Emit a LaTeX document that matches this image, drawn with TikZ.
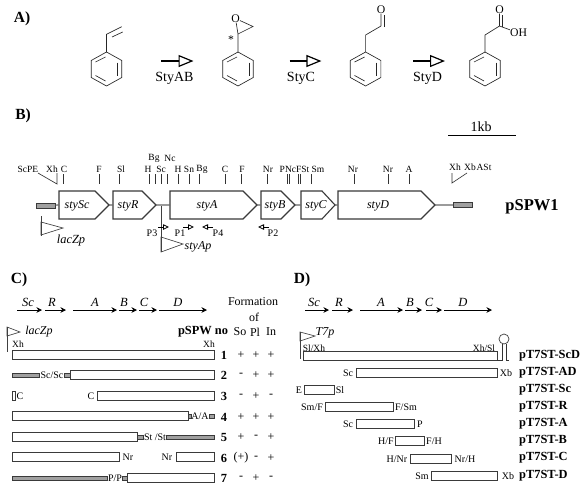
\documentclass[tikz,border=0pt]{standalone}
\usepackage{fontspec}
\setmainfont{Liberation Serif}
\usetikzlibrary{arrows.meta,positioning}
\definecolor{wire}{HTML}{3A3A3A}
\definecolor{rodfill}{HTML}{A0A0A0}
\tikzset{
  head/.style={font=\fontsize{15.5}{15}\selectfont\bfseries,inner sep=0pt},
  enz/.style={font=\fontsize{14}{14}\selectfont,inner sep=0pt},
  atom/.style={font=\fontsize{11.7}{12}\selectfont,inner sep=0pt},
  bond/.style={black!85,line width=0.65pt},
  react/.style={-{Triangle[open,length=15pt,width=12pt,line width=1.2pt]},black,line width=1.2pt},
  site/.style={font=\fontsize{9.5}{10}\selectfont,inner sep=0pt},
  tickm/.style={draw=black!80,line width=0.65pt},
  gene/.style={draw=wire,fill=white,line width=1.1pt,line join=miter},
  gname/.style={font=\fontsize{12}{12}\selectfont\itshape,inner sep=0pt},
  backb/.style={draw=black!60,line width=1.2pt},
  rod/.style={draw=wire,fill=rodfill,line width=0.7pt,minimum height=4pt,inner sep=0pt},
  barbox/.style={draw=wire,fill=white,line width=0.85pt,minimum height=9pt,inner sep=0pt},
  orf/.style={-{Stealth[length=5.5pt,width=5.5pt]},black,line width=0.8pt},
  orfname/.style={font=\fontsize{12.5}{13}\selectfont\itshape,inner sep=0pt},
  prom/.style={draw=black!75,line width=0.65pt},
  primer/.style={-{Triangle[open,length=6pt,width=5.5pt,line width=0.8pt]},black,line width=0.8pt},
  cut/.style={font=\fontsize{10}{10}\selectfont,inner sep=0pt},
  plain/.style={font=\fontsize{12}{12}\selectfont,inner sep=0pt},
  bold/.style={font=\fontsize{12.4}{12}\selectfont\bfseries,inner sep=0pt},
}
% ring at x, point on top
\newcommand{\phring}[2]{
  \draw[bond] (#1,52) -- ++(15.3,8.5) -- ++(0,17) -- ++(-15.3,8.5) -- ++(-15.3,-8.5) -- ++(0,-17) -- cycle;
  \draw[bond] (#1+11,62.5) -- (#1+11,75.5);
  \draw[bond] (#1-11,75.5) -- (#1-1,81);
  \draw[bond] (#1-11,62) -- (#1-1,57);
  \coordinate (#2) at (#1,52);
}
% gene: name, x start, shoulder, tip, label centre
\newcommand{\genearrow}[5]{
  \draw[gene] (#2,191) -- (#3,191) -- (#4,205) -- (#3,219) -- (#2,219) -- cycle;
  \coordinate (#1w) at (#2,205); \coordinate (#1e) at (#4,205);
  \node[gname] (#1) at (#5,205.5) {sty#1};
}
% bar: style, name, x0, x1, y
\newcommand{\slab}[5]{
  \pgfmathsetmacro{\slabw}{#4-(#3)}
  \node[#1,anchor=west,minimum width=\slabw pt] (#2) at (#3,#5) {};
}
\begin{document}
\begin{tikzpicture}[x=1pt,y=-1pt]
  \useasboundingbox (0,0) rectangle (585,488);
  \fill[white] (0,0) rectangle (585,488);

  % A
  \node[head] (pa) at (22,18.5) {A)};
  \phring{106.5}{st}
  \phring{238}{ep}
  \phring{365.6}{pa1}
  \phring{485}{pa2}
  \coordinate (st1) at (106.5,34.3); \coordinate (st2) at (121.7,26.7);
  \draw[bond] (st) -- (st1) -- (st2);
  \draw[bond] (112,37) -- (122.7,32);
  \node[atom] (oxy) at (235.5,18.5) {O};
  \coordinate (ep1) at (238,34); \coordinate (ep2) at (253,26.5);
  \draw[bond] (ep) -- (ep1) -- (ep2) -- (oxy);
  \draw[bond] (ep1) -- (oxy);
  \node[atom] (star) at (231,40) {*};
  \coordinate (ald1) at (365.6,35); \coordinate (ald2) at (381,26);
  \node[atom] (oald) at (381,9.5) {O};
  \draw[bond] (pa1) -- (ald1) -- (ald2) -- (oald);
  \draw[bond] (384,27) -- (384,15);
  \coordinate (ac1) at (485,35); \coordinate (ac2) at (499.5,26);
  \node[atom] (oac) at (499.5,9.5) {O};
  \node[atom] (oh) at (518.6,33) {OH};
  \draw[bond] (pa2) -- (ac1) -- (ac2) -- (oac);
  \draw[bond] (502.5,27) -- (502.5,15);
  \draw[bond] (ac2) -- (oh);
  \foreach \xs/\xe/\xl/\txt in {161/193.5/174.4/StyAB,289.5/321.4/301/StyC,413/445/427.5/StyD}{
    \coordinate (r\txt a) at (\xs,61); \coordinate (r\txt b) at (\xe,61);
    \draw[react] (r\txt a) -- (r\txt b);
    \node[enz] (l\txt) at (\xl,78) {\txt};
  }

  % B
  \node[head] (pb) at (23,116) {B)};
  \node[enz] (scale) at (481,127) {1kb};
  \coordinate (sa) at (448,135); \coordinate (sb) at (516,135);
  \draw[black,line width=0.8pt] (sa) -- (sb);
  \genearrow{Sc}{59}{95}{109}{77}
  \genearrow{R}{113}{142}{156}{128}
  \genearrow{A}{170}{243}{257}{207}
  \genearrow{B}{261}{281}{295}{275}
  \genearrow{C}{301}{322}{335}{316}
  \genearrow{D}{338}{421}{435}{378}
  \slab{rod,minimum height=5pt}{lrod}{36}{55}{205.5}
  \slab{rod,minimum height=5pt}{rrod}{453}{472}{205}
  \draw[backb] (lrod) -- (Scw) (Sce) -- (Rw) (Re) -- (Aw) (Ae) -- (Bw) (Be) -- (Cw) (Ce) -- (Dw) (De) -- (rrod);
  \foreach \xx in {63,99,119,149,155,161,167,178,189,199,225,241,267,287,289,298,300,311,354,388,409}
    \draw[tickm] (\xx,174) -- (\xx,184);
  \draw[tickm] (57,173) -- (57,184) -- (38,173);
  \draw[tickm] (452,173) -- (452,183) -- (467,173);
  \foreach \xx/\yy/\txt [count=\n] in {28/169/ScPE,52/169/Xh,64/169/C,99/169/F,121/169/Sl,148/169/H,154/158.5/Bg,170/158.5/Nc,161/169/Sc,178/169/H,189/169/Sn,202/169/Bg,225/169/C,242/169/F,268/169/Nr,294.5/169/PNcFSt,318/169/Sm,353/169/Nr,388/169/Nr,409/169/A,455/167/Xh,470/167/Xb,484/167/ASt}
    \node[site] (s\n) at (\xx,\yy) {\txt};
  \node[font=\fontsize{16.5}{17}\selectfont\bfseries,inner sep=0pt] (plasmid) at (532,207) {pSPW1};
  \draw[prom] (41,216) -- (41,236);
  \draw[prom] (41,222) -- (63,228) -- (41,235) -- cycle;
  \node[gname,font=\fontsize{12.4}{13}\selectfont\itshape] (lacb) at (71,241) {lacZp};
  \draw[prom] (161,206) -- (161,252);
  \draw[prom] (161,237) -- (183,244) -- (161,252) -- cycle;
  \node[gname] (styap) at (198,247) {styAp};
  \foreach \xs/\xe/\txt/\xl in {158/169/P3/152,183/194/P1/180,213/202/P4/218,269/258/P2/273}{
    \coordinate (\txt a) at (\xs,227); \coordinate (\txt b) at (\xe,227);
    \draw[primer] (\txt a) -- (\txt b);
    \node[cut] (l\txt) at (\xl,233) {\txt};
  }

  % C
  \node[head] (pc) at (19,280) {C)};
  \foreach \xs/\xe/\xl/\txt in {17/42/28/Sc,45/66/52/R,73/117/95/A,119/137/124/B,139/157/144/C,159/207/178/D}{
    \coordinate (c\txt a) at (\xs,310); \coordinate (c\txt b) at (\xe,310);
    \draw[orf] (c\txt a) -- (c\txt b);
    \node[orfname] (cl\txt) at (\xl,302) {\txt};
  }
  \node[plain] (form) at (253,302) {Formation};
  \node[plain] (formof) at (254,317) {of};
  \node[plain] (so) at (240,332) {So};
  \node[plain] (pl) at (255,332) {Pl};
  \node[plain] (inc) at (271,332) {In};
  \node[bold] (pno) at (203,332) {pSPW no};
  \draw[prom] (7,327) -- (7,352);
  \draw[prom] (7,327) -- (20,332) -- (7,336) -- cycle;
  \node[gname] (lacc) at (39,332) {lacZp};
  \node[site] (cxa) at (18,344.5) {Xh};
  \node[site] (cxb) at (209,344.5) {Xh};
  \slab{barbox}{c1}{12}{214}{354.5}
  \slab{rod}{c2r}{12}{39}{375}
  \node[cut] (c2l) at (52,375) {Sc/Sc};
  \slab{rod}{c2s}{64}{70}{375}
  \slab{barbox}{c2}{70}{214}{375}
  \slab{barbox}{c3a}{12}{15}{396}
  \node[cut] (c3l) at (20,396) {C};
  \node[cut] (c3m) at (91,396) {C};
  \slab{barbox}{c3}{97}{214}{396}
  \slab{barbox}{c4}{12}{188}{416}
  \slab{rod}{c4s}{188}{191}{416}
  \node[cut] (c4l) at (200,416) {A/A};
  \slab{rod}{c4r}{209}{214}{416}
  \slab{barbox}{c5}{12}{137}{437}
  \slab{rod}{c5s}{137}{143}{437}
  \node[cut] (c5l) at (155,437) {St /St};
  \slab{rod}{c5r}{166}{214}{437}
  \slab{barbox}{c6a}{12}{119}{457}
  \node[cut] (c6l) at (128,457) {Nr};
  \node[cut] (c6m) at (167,457) {Nr};
  \slab{barbox}{c6}{176}{214}{457}
  \slab{rod}{c7r}{12}{107}{478}
  \node[cut] (c7l) at (115,478) {P/P};
  \slab{rod}{c7s}{122}{127}{478}
  \slab{barbox}{c7}{127}{214}{478}
  \foreach \yy/\fa/\fb/\fc [count=\n] in {355/+/+/+,375/-/+/+,396/-/+/-,417/+/+/+,437/+/-/+,458/(+)/-/+,478/-/+/-}{
    \node[bold] (n\n) at (224,\yy) {\n};
    \node[plain] (fa\n) at (241,\yy) {\fa};
    \node[plain] (fb\n) at (256,\yy) {\fb};
    \node[plain] (fc\n) at (271,\yy) {\fc};
  }

  % D
  \node[head] (pd) at (302,280) {D)};
  \foreach \xs/\xe/\xl/\txt in {305/329/314/Sc,332/353/339/R,360/403/381/A,405/422/410/B,426/442/429/C,444/492/463/D}{
    \coordinate (d\txt a) at (\xs,310); \coordinate (d\txt b) at (\xe,310);
    \draw[orf] (d\txt a) -- (d\txt b);
    \node[orfname] (dl\txt) at (\xl,302) {\txt};
  }
  \draw[prom] (300,332) -- (300,359);
  \draw[prom] (300,332) -- (315,336) -- (300,341) -- cycle;
  \node[gname] (tsev) at (325,333) {T7p};
  \node[site] (dsx) at (314,348) {Sl/Xh};
  \node[site] (dxs) at (484,348) {Xh/Sl};
  \slab{barbox}{d1}{303}{497}{356}
  \node[draw=black!75,circle,line width=0.7pt,minimum size=10pt,inner sep=0pt] (loop) at (504,339) {};
  \draw[tickm] (497,360) -- (502,360) -- (502,344);
  \draw[tickm] (506,344) -- (506,360) -- (509,360);
  \slab{barbox}{d2}{356}{497}{373}
  \slab{barbox}{d3}{304}{334}{390}
  \slab{barbox}{d4}{325}{393}{407}
  \slab{barbox}{d5}{356}{414}{424}
  \slab{barbox}{d6}{395}{424}{441}
  \slab{barbox}{d7}{410}{451}{459}
  \slab{barbox}{d8}{431}{497}{476}
  \foreach \xx/\yy/\txt [count=\n] in {348/373/Sc,506/373/Xb,299/390/E,340/390/Sl,312/407/{Sm/F},406/407/{F/Sm},348/424/Sc,420/424/P,386/441/{H/F},434/441/{F/H},397/459/{H/Nr},465/459/{Nr/H},422/476/Sm,508/476/Xb}
    \node[cut] (dc\n) at (\xx,\yy) {\txt};
  \foreach \yy/\txt [count=\n] in {356/ScD,373/AD,390/Sc,407/R,424/A,441/B,458/C,476/D}
    \node[bold,anchor=west] (pt\n) at (519,\yy) {pT7ST-\txt};
\end{tikzpicture}
\end{document}
